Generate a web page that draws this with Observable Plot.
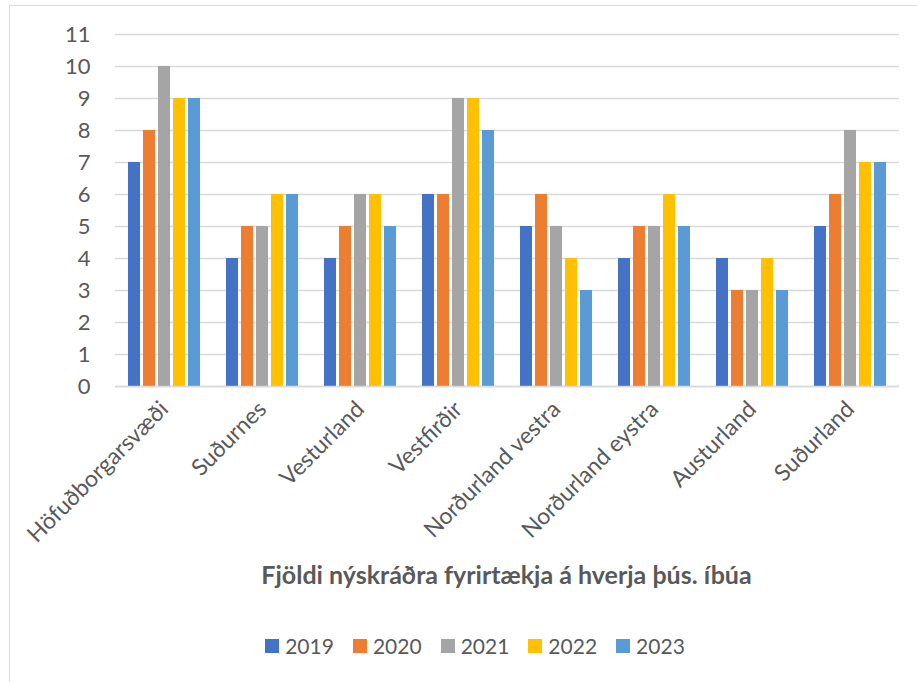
<!DOCTYPE html>
<html>
<head>
<meta charset="utf-8">
<script src="https://cdn.jsdelivr.net/npm/d3@7"></script>
<script src="https://cdn.jsdelivr.net/npm/@observablehq/plot@0.6"></script>
<style>
  html, body { margin: 0; padding: 0; background: #fff; overflow: hidden; }
  body { width: 917px; height: 682px; position: relative; font-family: Lato, sans-serif; }
  #frame { position: absolute; left: 9px; top: 5px; width: 940px; height: 700px; border: 1px solid #d9d9d9; box-sizing: border-box; }
  #chart { position: absolute; left: 0; top: 0; }
  #chart svg text { font-family: Lato, sans-serif; fill: #595959; }
  #chart svg g[aria-label="y-axis tick label"], #chart svg g[aria-label="y-axis tick label"] text { font-size: 22px; }
  #chart svg g[aria-label="fx-axis tick label"], #chart svg g[aria-label="fx-axis tick label"] text { font-size: 23px; }
  #title { position: absolute; left: 111px; width: 791px; top: 559px; text-align: center; font-weight: bold; font-size: 25px; color: #595959; line-height: 30px; }
  #legend { position: absolute; left: 0; width: 917px; top: 633px; display: flex; justify-content: center; padding-left: 52px; box-sizing: border-box; color: #595959; font-size: 21px; line-height: 26px; }
  .item { display: flex; align-items: center; margin-right: 19px; }
  .sw { width: 14px; height: 14px; margin-right: 6px; }
</style>
</head>
<body>
<div id="frame"></div>
<div id="chart"></div>
<div id="title">Fjöldi nýskráðra fyrirtækja á hverja þús. íbúa</div>
<div id="legend"></div>
<script>
const regions = ["Höfuðborgarsvæði", "Suðurnes", "Vesturland", "Vestfirðir", "Norðurland vestra", "Norðurland eystra", "Austurland", "Suðurland"];
const years = ["2019", "2020", "2021", "2022", "2023"];
const v2019 = [7, 4, 4, 6, 5, 4, 4, 5];
const v2020 = [8, 5, 5, 6, 6, 5, 3, 6];
const v2021 = [10, 5, 6, 9, 5, 5, 3, 8];
const v2022 = [9, 6, 6, 9, 4, 6, 4, 7];
const v2023 = [9, 6, 5, 8, 3, 5, 3, 7];
const colors = ["#4472C4", "#ED7D31", "#A5A5A5", "#FFC000", "#5B9BD5"];
const yTicks = [0, 1, 2, 3, 4, 5, 6, 7, 8, 9, 10, 11];

const series = [v2019, v2020, v2021, v2022, v2023];
const data = [];
regions.forEach((r, i) => years.forEach((y, j) => data.push({region: r, year: y, value: series[j][i]})));

const chart = Plot.plot({
  width: 917,
  height: 556,
  marginTop: 34,
  marginBottom: 170,
  marginLeft: 111,
  marginRight: 15,
  style: {fontFamily: "Lato, sans-serif", color: "#595959", background: "transparent"},
  fx: {domain: regions, paddingInner: 0, paddingOuter: 0, label: null},
  x: {domain: years, paddingInner: 0.2, paddingOuter: 0.85, axis: null},
  y: {domain: [0, 11], ticks: yTicks, label: null},
  color: {domain: years, range: colors},
  marks: [
    Plot.gridY(yTicks, {stroke: "#d9d9d9", strokeOpacity: 1, strokeWidth: 1.5}),
    Plot.barY(data, {fx: "region", x: "year", y: "value", fill: "year"}),
    Plot.ruleY([0], {stroke: "#d9d9d9", strokeWidth: 1.5}),
    Plot.axisY(yTicks, {tickSize: 0, tickPadding: 25, label: null}),
    Plot.axisFx({anchor: "bottom", tickRotate: -45, tickSize: 0, tickPadding: 19, label: null})
  ]
});
document.getElementById("chart").appendChild(chart);

const legend = document.getElementById("legend");
years.forEach((y, i) => {
  const item = document.createElement("div");
  item.className = "item";
  const sw = document.createElement("div");
  sw.className = "sw";
  sw.style.background = colors[i];
  const t = document.createElement("span");
  t.textContent = y;
  item.appendChild(sw);
  item.appendChild(t);
  legend.appendChild(item);
});
</script>
</body>
</html>
